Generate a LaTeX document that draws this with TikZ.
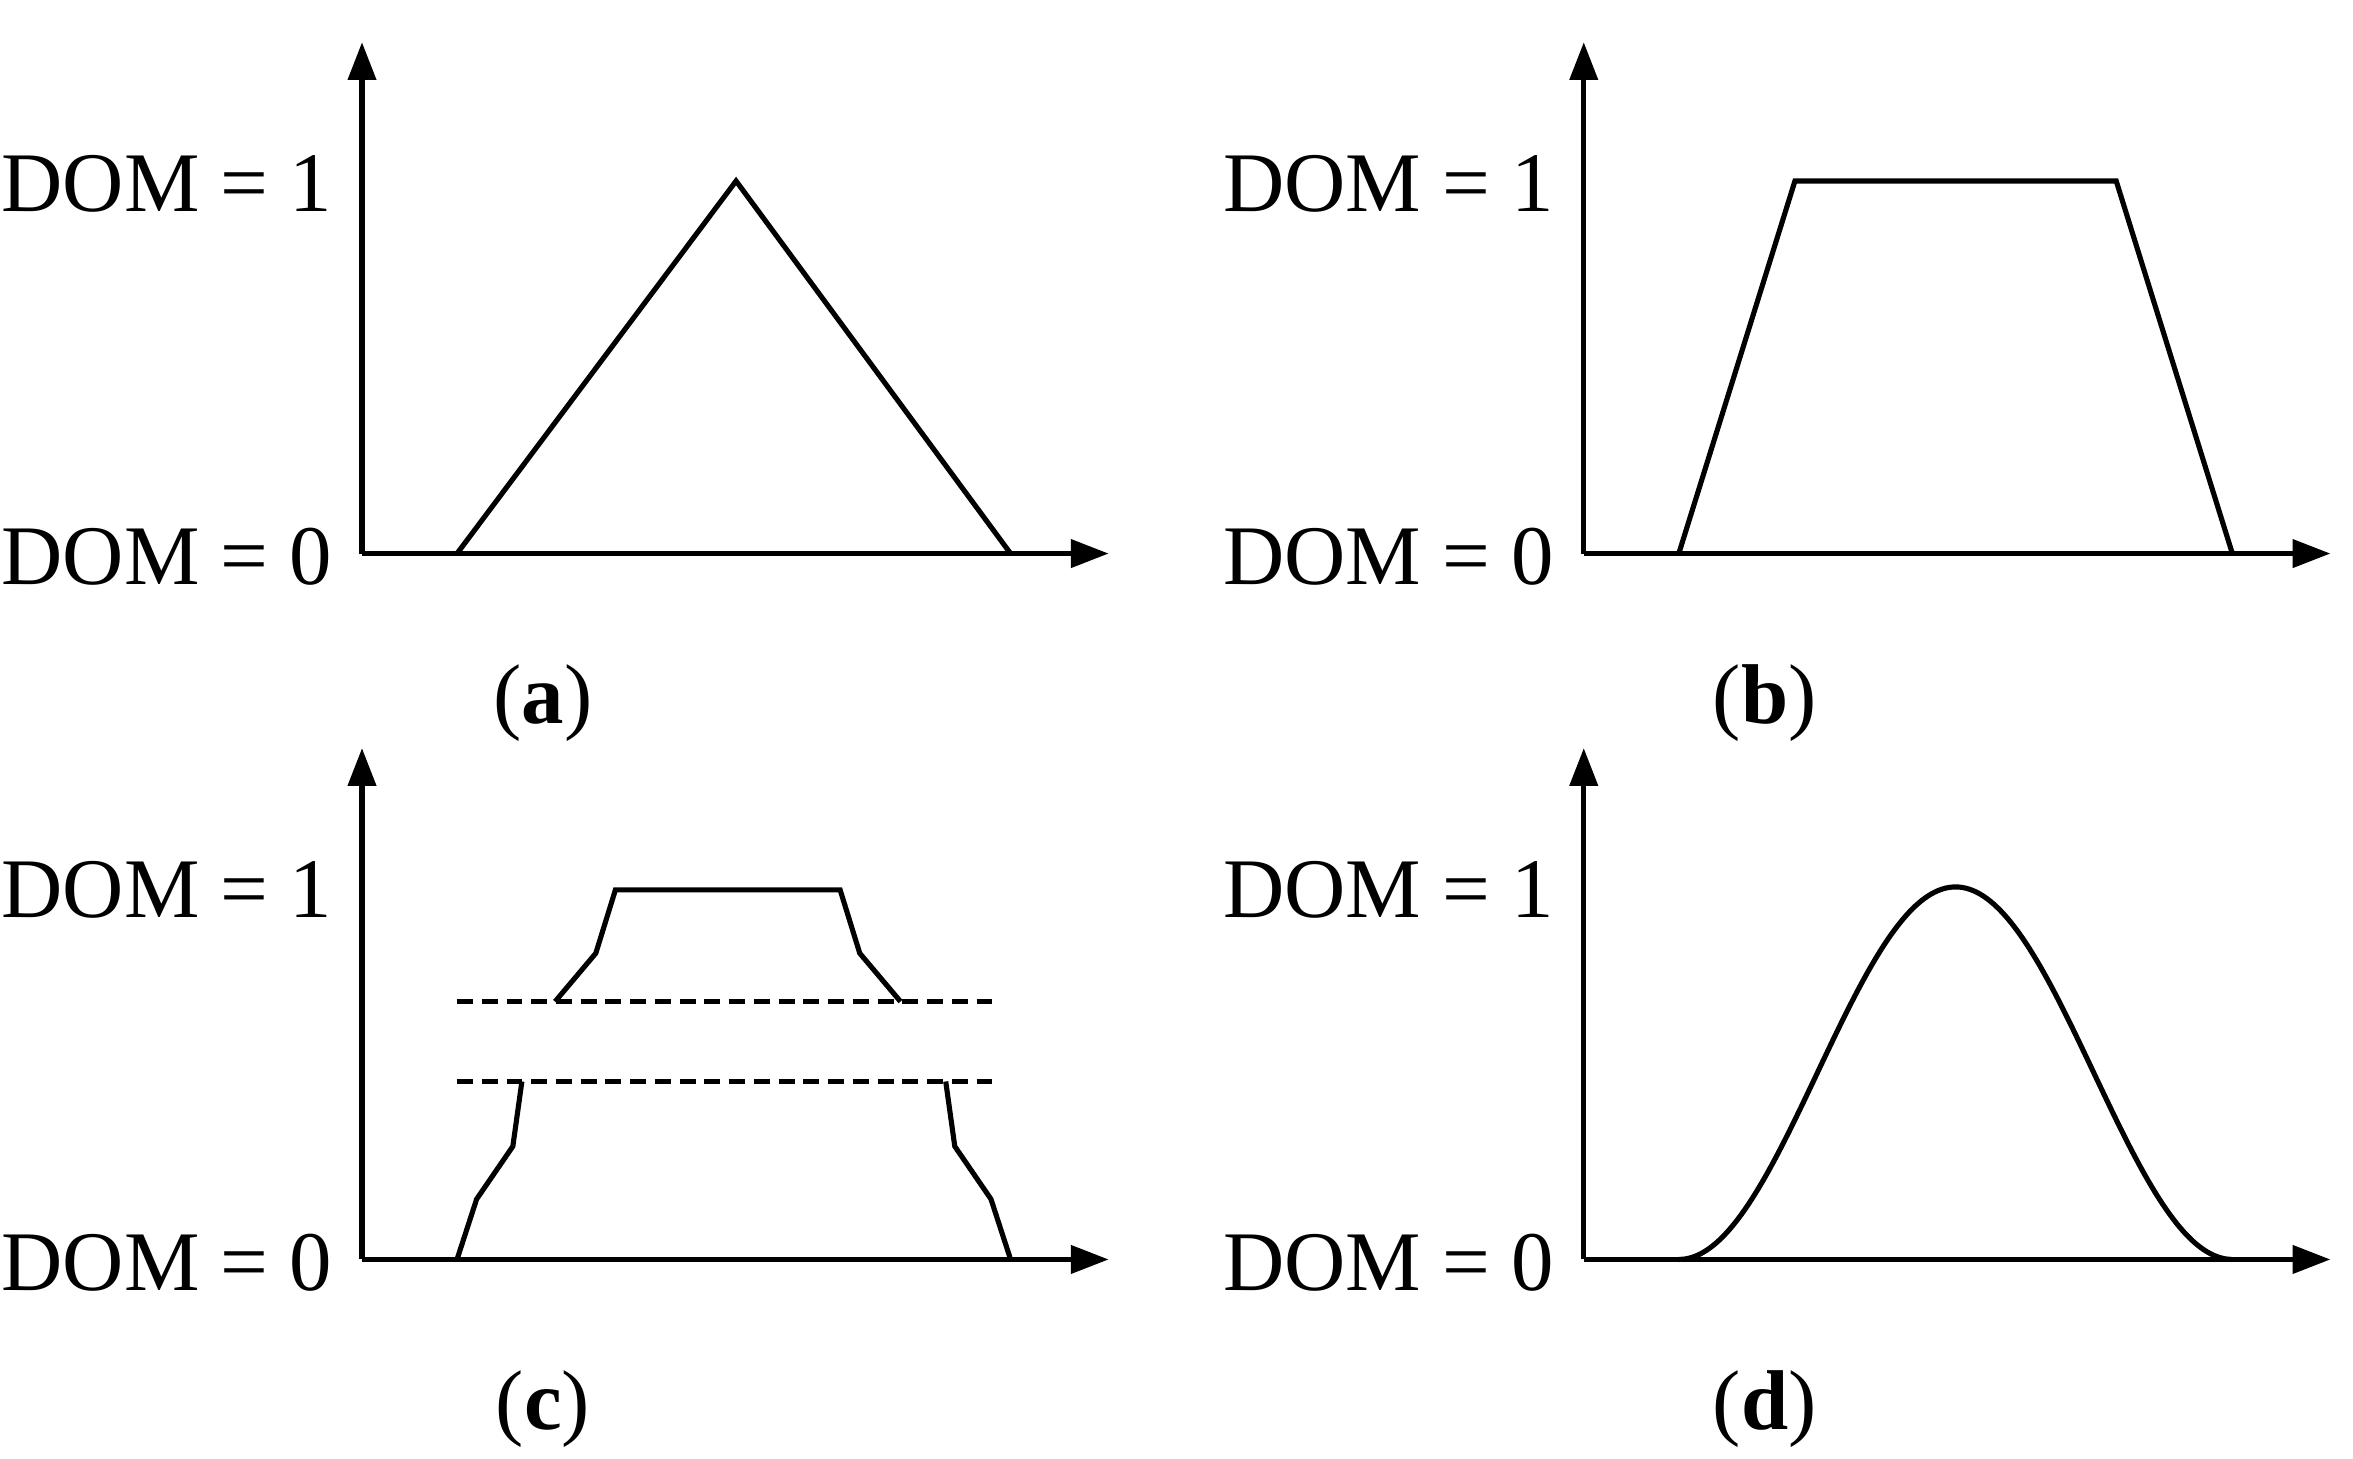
\documentclass[tikz,border=0pt]{standalone}
\usepackage{fontspec}
\setmainfont{Liberation Serif}
\usetikzlibrary{arrows.meta}
\begin{document}
\begin{tikzpicture}[x=0.3mm,y=-0.3mm,line width=2.9pt,
  ax/.style={-{Triangle[length=7.5mm,width=5.5mm]},line width=2.9pt},
  lab/.style={font=\fontsize{48}{54}\selectfont,inner sep=0pt},
  captext/.style={font=\fontsize{48}{54}\selectfont,inner sep=0pt}]
\useasboundingbox (0,0) rectangle (1560,967);
\foreach \ox/\oy/\c in {0/0/a,810/0/b,0/468/c,810/468/d}{
  \begin{scope}[shift={(\ox*0.3mm,-\oy*0.3mm)}]
  \coordinate (o\c) at (240,367);
  \draw[ax] (o\c) -- (240,28);
  \draw[ax] (o\c) -- (735,367);
  \node[lab,anchor=east] (one\c) at (222,122) {DOM = 1};
  \node[lab,anchor=east] (zero\c) at (222,369) {DOM = 0};
  \node[captext] (cap\c) at (360,466) {(\textbf{\c})};
  \end{scope}}
\draw (303,367) -- (488,120) -- (670,367);
\draw (1113,367) -- (1190,120) -- (1403,120) -- (1480,367);
\draw (303,835) -- (316,795) -- (340,760) -- (346,717);
\draw (368,664) -- (395,632) -- (408,590) -- (557,590) -- (570,632) -- (597,664);
\draw (627,717) -- (633,760) -- (657,795) -- (670,835);
\draw[dash pattern=on 9pt off 5pt] (303,717) -- (663,717);
\draw[dash pattern=on 9pt off 5pt] (303,664) -- (663,664);
\draw[domain=0:1,samples=80,smooth] plot ({1113+367*\x},{835-247*(1-cos(360*\x))/2});
\end{tikzpicture}
\end{document}
